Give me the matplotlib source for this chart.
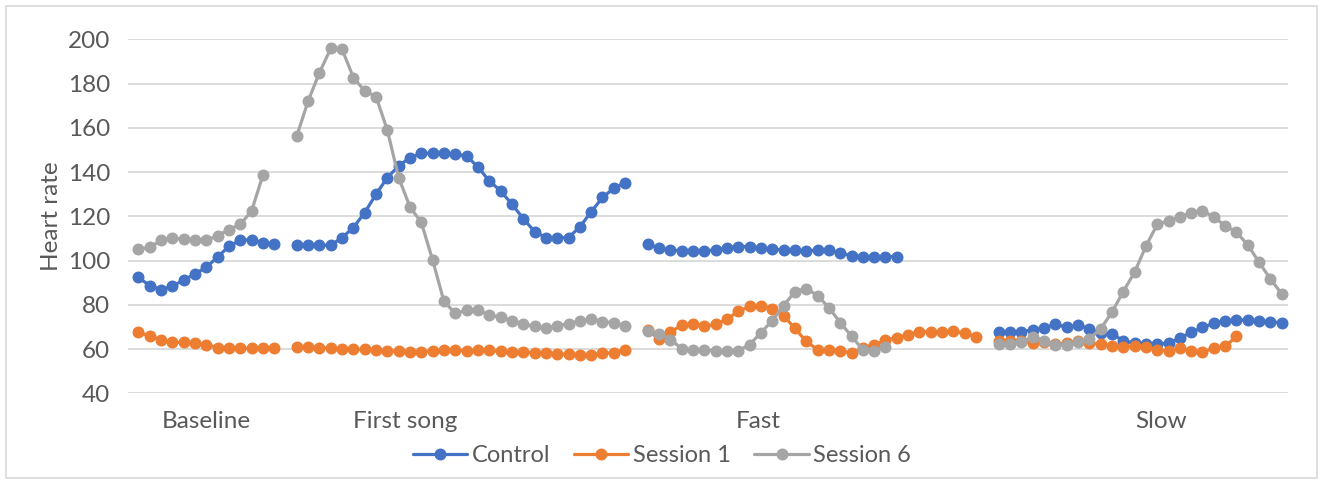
import numpy as np
import matplotlib
matplotlib.use("Agg")
import matplotlib.pyplot as plt
from matplotlib.patches import Rectangle

# ---- data ----
segments = ["Baseline", "First song", "Fast", "Slow"]
segment_slots = [13, 30, 30, 26]          # number of categories in each segment
label_at = [6, 23.6, 54.8, 90.3]          # category index where each segment label sits

control_baseline = [92.4, 88.7, 86.9, 88.4, 91.2, 93.9, 97.0, 101.5, 106.5, 109.1, 109.5, 108.1, 107.5]
control_first = [106.9, 106.9, 106.9, 106.9, 110.4, 114.9, 121.7, 130.0, 137.5, 142.8, 146.5, 148.5, 148.5, 148.5, 148.2,
                 147.2, 142.3, 136.0, 131.5, 125.5, 119.0, 113.1, 110.4, 110.4, 110.4, 115.2, 122.0, 128.5, 132.7, 135.2]
control_fast = [107.4, 105.6, 104.8, 104.4, 104.4, 104.4, 104.8, 105.6, 106.3, 106.3, 105.6, 105.1, 104.8, 104.7, 104.4,
                104.7, 104.7, 103.6, 102.1, 101.8, 101.8, 101.8, 101.8]
control_slow = [67.5, 67.8, 67.8, 68.8, 69.4, 71.3, 69.8, 70.9, 69.1, 67.2, 66.8, 63.8, 62.6, 62.3, 62.3, 62.7,
                65.0, 67.5, 69.8, 71.6, 72.8, 73.1, 73.1, 72.8, 72.3, 71.9]

session1_baseline = [67.5, 66.0, 64.1, 63.0, 63.0, 62.7, 61.8, 60.7, 60.5, 60.3, 60.3, 60.7, 60.7]
session1_first = [61.0, 61.0, 60.7, 60.4, 59.9, 59.9, 59.9, 59.6, 59.2, 58.9, 58.7, 58.7, 59.2, 59.5, 59.5,
                  59.2, 59.5, 59.5, 58.9, 58.7, 58.7, 58.4, 58.0, 57.7, 57.7, 57.4, 57.4, 58.0, 58.4, 59.5]
session1_fast = [68.5, 64.5, 67.7, 70.7, 71.1, 70.4, 71.1, 73.6, 77.0, 79.3, 79.3, 78.2, 75.1, 69.3, 63.5,
                 59.7, 59.7, 59.3, 58.2, 60.5, 61.9, 64.0, 65.2, 66.4, 67.9, 67.9, 67.9, 68.1, 67.1, 65.6]
session1_slow = [63.6, 63.6, 63.5, 62.8, 63.4, 62.3, 62.7, 63.6, 62.6, 62.3, 61.2, 60.8, 61.5, 60.8, 59.7,
                 59.2, 60.3, 59.2, 58.5, 60.5, 61.2, 65.7]

session6_baseline = [105.0, 106.0, 109.1, 110.1, 109.6, 109.1, 109.1, 111.2, 114.0, 116.3, 122.3, 138.5]
session6_first = [156.3, 172.1, 184.9, 195.9, 195.5, 182.7, 176.7, 174.1, 158.9, 137.5, 124.2, 117.2, 100.2, 81.5, 76.1,
                  77.6, 77.6, 75.3, 74.5, 72.7, 71.2, 70.2, 69.3, 70.5, 71.5, 72.7, 73.5, 72.4, 72.0, 70.5]
session6_fast = [68.3, 67.0, 64.3, 60.2, 59.6, 59.5, 59.3, 59.3, 59.3, 62.0, 67.4, 72.9, 79.6, 86.0, 87.3,
                 84.2, 78.7, 72.0, 65.8, 59.7, 58.9, 61.0]
session6_slow = [62.3, 62.3, 63.0, 65.6, 63.8, 61.8, 61.8, 63.0, 64.5, 69.1, 76.6, 86.0, 94.7, 106.5, 116.3,
                 118.1, 119.6, 121.6, 122.6, 119.6, 115.8, 112.8, 107.1, 99.2, 91.7, 84.9]

series_names = ["Control", "Session 1", "Session 6"]
series_parts = [
    [control_baseline, control_first, control_fast, control_slow],
    [session1_baseline, session1_first, session1_fast, session1_slow],
    [session6_baseline, session6_first, session6_fast, session6_slow],
]
colors = ["#4472C4", "#ED7D31", "#A5A5A5"]
yticks = [40, 60, 80, 100, 120, 140, 160, 180, 200]


def assemble(parts):
    """Put each segment in its slots, one empty category between segments."""
    vals = []
    for k, (part, n) in enumerate(zip(parts, segment_slots)):
        seg = list(part) + [np.nan] * (n - len(part))
        vals.extend(seg)
        if k < len(segment_slots) - 1:
            vals.append(np.nan)
    return np.array(vals, dtype=float)


W, H = 1324, 480
fig = plt.figure(figsize=(W / 100, H / 100), dpi=100)
plt.rcParams["font.family"] = ["Lato", "DejaVu Sans"]
txt = "#595959"
fs = 17.5

ax = fig.add_axes([128.3 / W, 1 - 393.3 / H, (1288.3 - 128.3) / W, (393.3 - 39.3) / H])

handles = []
for name, parts, c in zip(series_names, series_parts, colors):
    y = assemble(parts)
    x = np.arange(len(y))
    ln, = ax.plot(x, y, color=c, lw=2.3, marker="o", ms=7.6, mec=c, mfc=c,
                  solid_capstyle="round", label=name, zorder=3)
    handles.append(ln)

ax.set_ylim(40, 200)
ax.set_yticks(yticks)
ax.set_xlim(-0.883, 101.58)
ax.set_xticks(label_at)
ax.set_xticklabels(segments)
ax.grid(axis="y", color="#D9D9D9", lw=1.3, zorder=0)
ax.set_axisbelow(True)
for s in ax.spines.values():
    s.set_visible(False)
ax.tick_params(axis="both", length=0, colors=txt, labelsize=fs)
ax.tick_params(axis="y", pad=13)
ax.tick_params(axis="x", pad=13)
ax.set_ylabel("Heart rate", color=txt, fontsize=fs, labelpad=4)

leg = fig.legend(handles=handles, loc="center", bbox_to_anchor=(662 / W, 1 - 456 / H),
                 ncol=3, frameon=False, fontsize=17, handlelength=2.3, columnspacing=1.0,
                 handletextpad=0.2, labelcolor=txt)

fig.patches.append(Rectangle((6 / W, 2 / H), (1317 - 6) / W, (474 - 2) / H, transform=fig.transFigure,
                             fill=False, ec="#D9D9D9", lw=1.2))

fig.savefig("out.png", dpi=100, facecolor="white")
